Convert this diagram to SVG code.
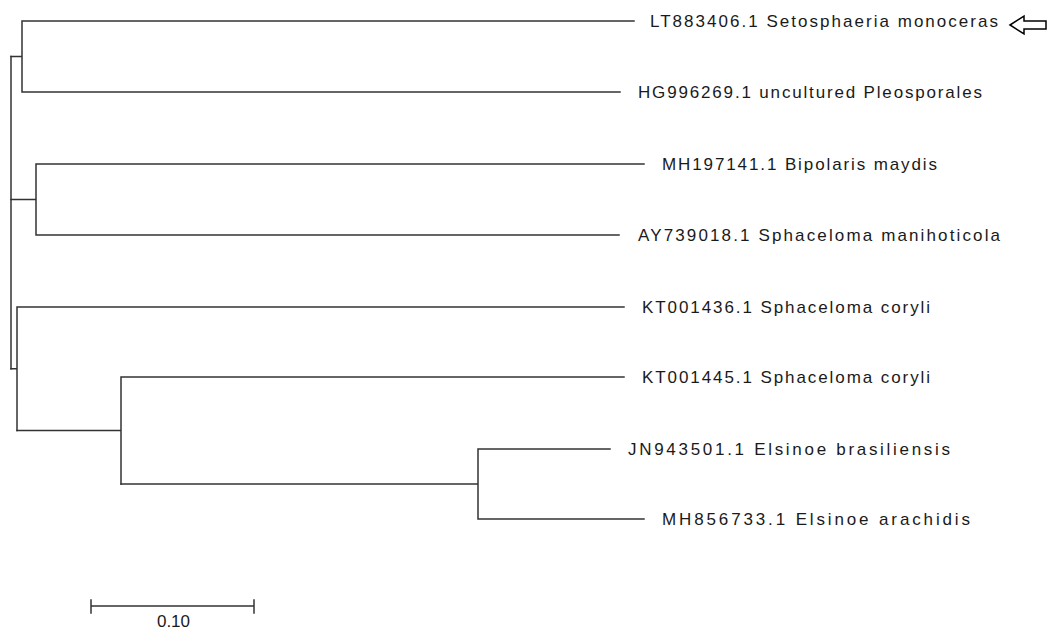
<svg xmlns="http://www.w3.org/2000/svg" width="1055" height="632" viewBox="0 0 1055 632">
<style>
.br{fill:none;stroke:#333;stroke-width:1.5;stroke-linecap:square}
.lb{font-family:"Liberation Sans",Arial,sans-serif;font-size:17px;fill:#1a1a1a}
</style>
<rect width="1055" height="632" fill="#fff"/>
<g id="connectors">
<path class="br" d="M11,56.5V368.75"/>
<path class="br" d="M11,56.5H22M22,21V92M22,21H634M22,92H620"/>
<path class="br" d="M11,199.5H36M36,164V235M36,164H644M36,235H619"/>
<path class="br" d="M11,368.75H17M17,307V430.5M17,307H624"/>
<path class="br" d="M17,430.5H121M121,377V484M121,377H624"/>
<path class="br" d="M121,484H478M478,449V519M478,449H610M478,519H644"/>
</g>
<g id="leaf-LT883406"><text class="lb" x="650" y="27" textLength="348" lengthAdjust="spacing">LT883406.1 Setosphaeria monoceras</text></g>
<g id="leaf-HG996269"><text class="lb" x="638" y="98" textLength="344" lengthAdjust="spacing">HG996269.1 uncultured Pleosporales</text></g>
<g id="leaf-MH197141"><text class="lb" x="662" y="170" textLength="275" lengthAdjust="spacing">MH197141.1 Bipolaris maydis</text></g>
<g id="leaf-AY739018"><text class="lb" x="638" y="241" textLength="362" lengthAdjust="spacing">AY739018.1 Sphaceloma manihoticola</text></g>
<g id="leaf-KT001436"><text class="lb" x="642" y="313" textLength="288" lengthAdjust="spacing">KT001436.1 Sphaceloma coryli</text></g>
<g id="leaf-KT001445"><text class="lb" x="642" y="383" textLength="288" lengthAdjust="spacing">KT001445.1 Sphaceloma coryli</text></g>
<g id="leaf-JN943501"><text class="lb" x="628" y="455" textLength="322" lengthAdjust="spacing">JN943501.1 Elsinoe brasiliensis</text></g>
<g id="leaf-MH856733"><text class="lb" x="662" y="525" textLength="308" lengthAdjust="spacing">MH856733.1 Elsinoe arachidis</text></g>
<g id="arrow"><path d="M1010,25L1024,16V21H1046V29H1024V34Z" fill="#fff" stroke="#000" stroke-width="1.5" stroke-linejoin="miter"/></g>
<g id="scale-bar">
<path class="br" d="M91,606H254M91,600V613M254,600V613"/>
<text class="lb" x="157" y="627" textLength="33" lengthAdjust="spacing">0.10</text>
</g>
</svg>
